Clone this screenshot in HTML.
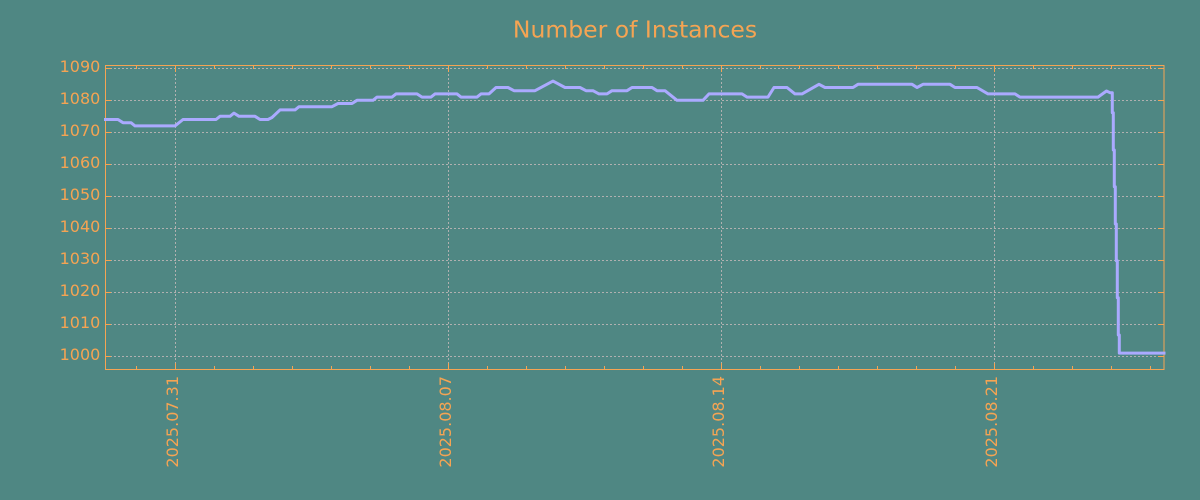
<!DOCTYPE html>
<html><head><meta charset="utf-8"><style>
html,body{margin:0;padding:0;background:#4f8783;}
svg{display:block;}
text{font-family:"DejaVu Sans","Liberation Sans",sans-serif;fill:#f5a453;}
</style></head><body>
<svg width="1200" height="500" viewBox="0 0 1200 500" xmlns="http://www.w3.org/2000/svg">
<rect width="1200" height="500" fill="#4f8783"/>
<text x="635" y="37.5" font-size="23.5" text-anchor="middle">Number of Instances</text>
<g stroke="#b0b0b0" stroke-width="1" stroke-dasharray="2,2" fill="none">
<line x1="106" y1="68.5" x2="1164" y2="68.5"/>
<line x1="106" y1="100.5" x2="1164" y2="100.5"/>
<line x1="106" y1="132.5" x2="1164" y2="132.5"/>
<line x1="106" y1="164.5" x2="1164" y2="164.5"/>
<line x1="106" y1="196.5" x2="1164" y2="196.5"/>
<line x1="106" y1="228.5" x2="1164" y2="228.5"/>
<line x1="106" y1="260.5" x2="1164" y2="260.5"/>
<line x1="106" y1="292.5" x2="1164" y2="292.5"/>
<line x1="106" y1="324.5" x2="1164" y2="324.5"/>
<line x1="106" y1="356.5" x2="1164" y2="356.5"/>
<line x1="175.5" y1="66" x2="175.5" y2="369"/>
<line x1="448.5" y1="66" x2="448.5" y2="369"/>
<line x1="721.5" y1="66" x2="721.5" y2="369"/>
<line x1="994.5" y1="66" x2="994.5" y2="369"/>
</g>
<g stroke="#f5a453" stroke-width="1" fill="none">
<rect x="105.5" y="65.5" width="1058.5" height="304"/>
<path d="M105 68.5h6M105 100.5h6M105 132.5h6M105 164.5h6M105 196.5h6M105 228.5h6M105 260.5h6M105 292.5h6M105 324.5h6M105 356.5h6"/>
<path d="M1164 68.5h-6M1164 100.5h-6M1164 132.5h-6M1164 164.5h-6M1164 196.5h-6M1164 228.5h-6M1164 260.5h-6M1164 292.5h-6M1164 324.5h-6M1164 356.5h-6"/>
<path d="M175.5 369v-6M448.5 369v-6M721.5 369v-6M994.5 369v-6M175.5 66v6M448.5 66v6M721.5 66v6M994.5 66v6"/>
<path d="M136.5 369v-3M214.5 369v-3M253.5 369v-3M292.5 369v-3M331.5 369v-3M370.5 369v-3M409.5 369v-3M487.5 369v-3M526.5 369v-3M565.5 369v-3M604.5 369v-3M643.5 369v-3M682.5 369v-3M760.5 369v-3M799.5 369v-3M838.5 369v-3M877.5 369v-3M916.5 369v-3M955.5 369v-3M1033.5 369v-3M1072.5 369v-3M1111.5 369v-3M1150.5 369v-3"/>
<path d="M136.5 66v3M214.5 66v3M253.5 66v3M292.5 66v3M331.5 66v3M370.5 66v3M409.5 66v3M487.5 66v3M526.5 66v3M565.5 66v3M604.5 66v3M643.5 66v3M682.5 66v3M760.5 66v3M799.5 66v3M838.5 66v3M877.5 66v3M916.5 66v3M955.5 66v3M1033.5 66v3M1072.5 66v3M1111.5 66v3M1150.5 66v3"/>
</g>
<g font-size="16" text-anchor="end">
<text x="100.3" y="72.2">1090</text>
<text x="100.3" y="104.2">1080</text>
<text x="100.3" y="136.2">1070</text>
<text x="100.3" y="168.2">1060</text>
<text x="100.3" y="200.2">1050</text>
<text x="100.3" y="232.2">1040</text>
<text x="100.3" y="264.2">1030</text>
<text x="100.3" y="296.2">1020</text>
<text x="100.3" y="328.2">1010</text>
<text x="100.3" y="360.2">1000</text>
</g>
<g font-size="16" text-anchor="end">
<text transform="translate(178,376) rotate(-90)">2025.07.31</text>
<text transform="translate(451,376) rotate(-90)">2025.08.07</text>
<text transform="translate(724,376) rotate(-90)">2025.08.14</text>
<text transform="translate(997,376) rotate(-90)">2025.08.21</text>
</g>
<polyline fill="none" stroke="#aaaaff" stroke-width="3" stroke-linejoin="round" points="
104,119.5 118,119.5 123,122.7 131,122.7 135,125.9 175,125.9 183,119.5 216,119.5 220,116.3 230,116.3 234,113.1 239,116.3 255,116.3 260,119.5 268,119.5 272,117.5 280,109.9 295,109.9 299,106.7 332,106.7 338,103.5 352,103.5 357,100.3 373,100.3 377,97.1 392,97.1 396,93.9 417,93.9 422,97.1 431,97.1 435,93.9 457,93.9 461,97.1 477,97.1 481,93.9 489,93.9 496,87.5 508,87.5 514,90.7 535,90.7 553,81.1 565,87.5 580,87.5 586,90.7 593,90.7 599,93.9 607,93.9 612,90.7 627,90.7 632,87.5 652,87.5 657,90.7 665,90.7 677,100.3 703,100.3 709,93.9 742,93.9 747,97.1 768,97.1 774,87.5 787,87.5 795,93.9 802,93.9 819,84.3 825,87.5 853,87.5 858,84.3 912,84.3 917,87.5 923,84.3 950,84.3 955,87.5 977,87.5 988,93.9 1015,93.9 1020,97.1 1098,97.1 1103,93.5 1106.5,91 1110,92.7 1112.3,92.7 1112.3,112.7 1113.3,112.7 1113.3,150 1114.3,150 1114.3,186.7 1115.3,186.7 1115.3,224 1116.3,224 1116.3,260.7 1117.3,260.7 1117.3,297.7 1118.3,297.7 1118.3,335 1119.3,335 1119.3,353.1 1165.5,353.1"/>
</svg>
</body></html>
